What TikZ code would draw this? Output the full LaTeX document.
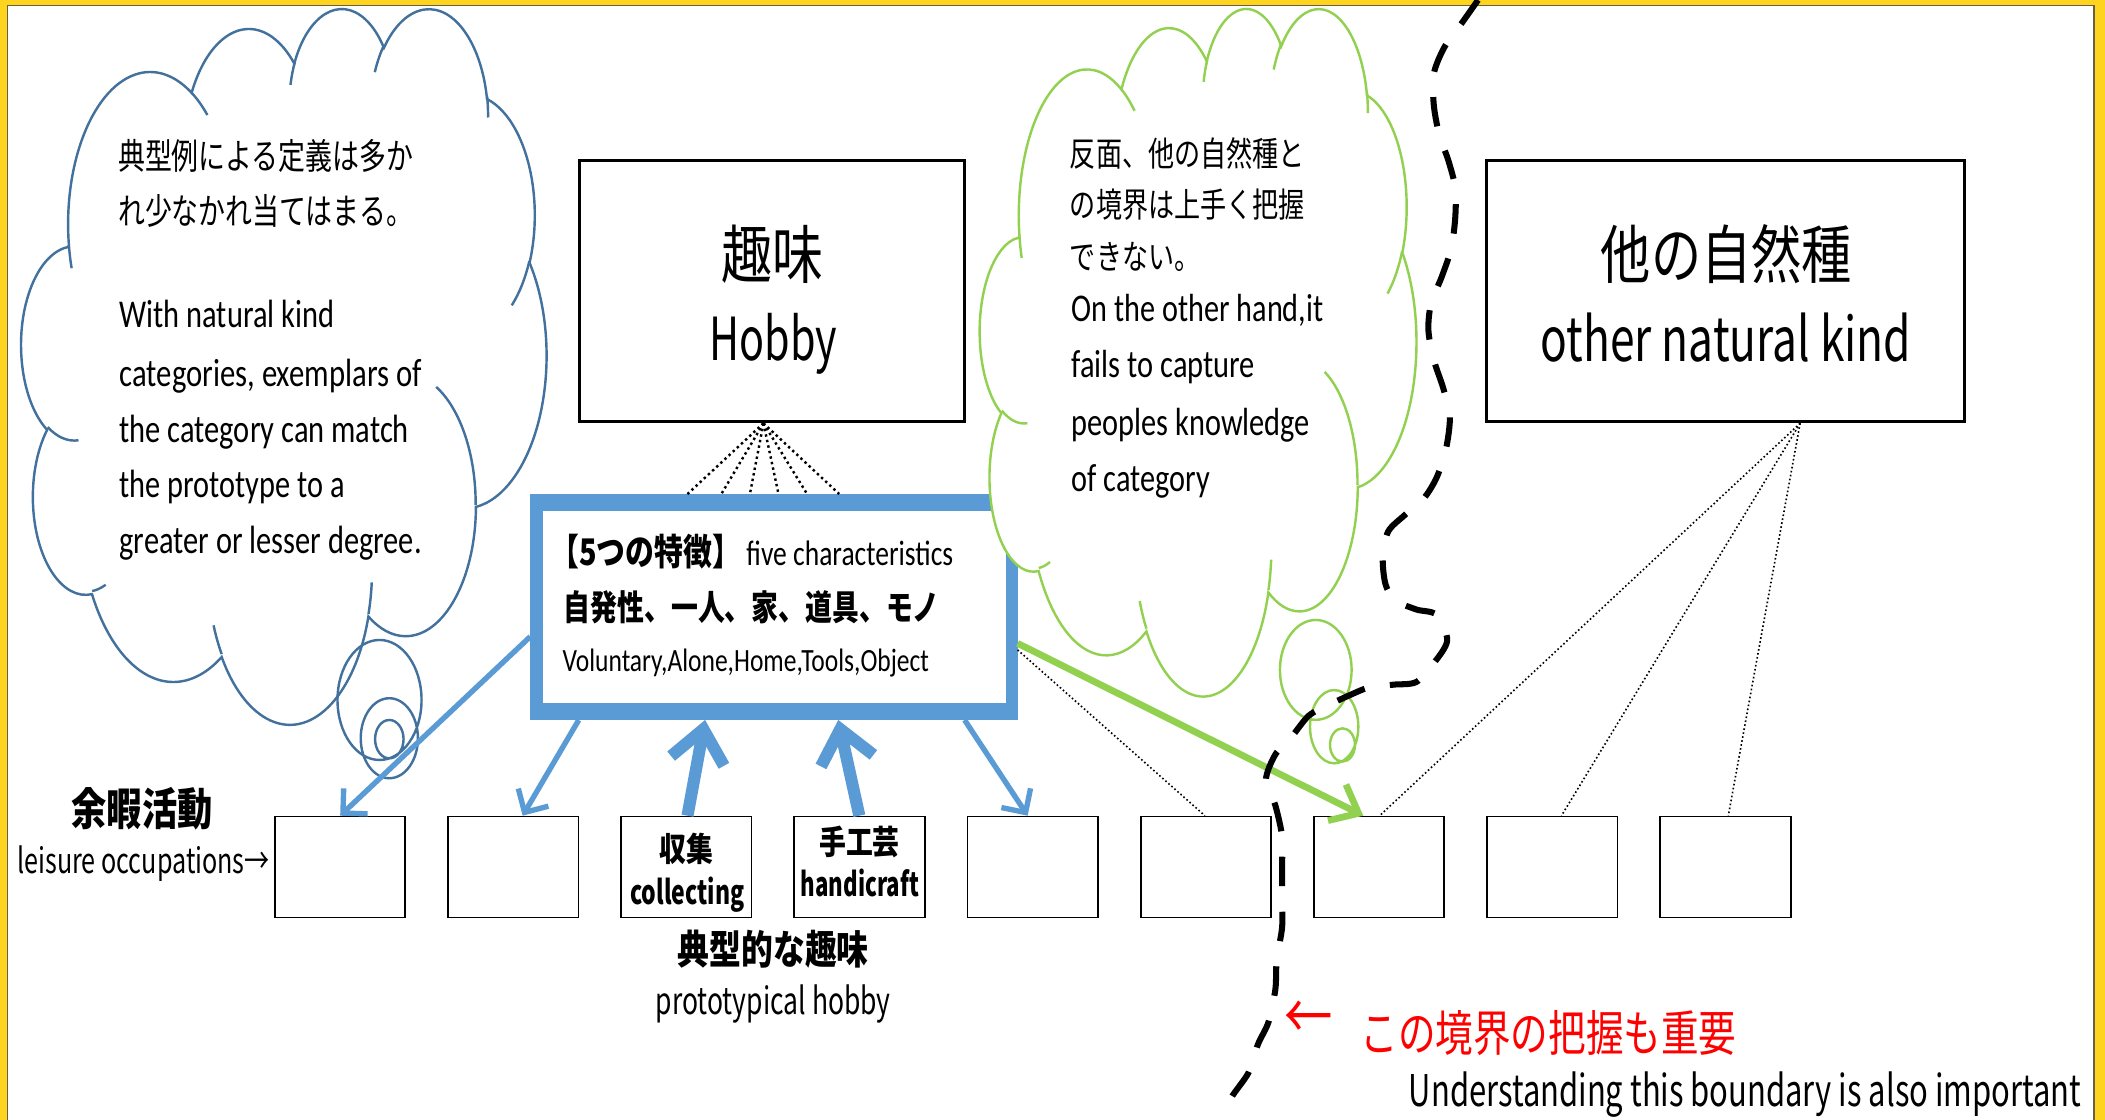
\documentclass[tikz,border=0pt]{standalone}
\usepackage{fontspec}
\usepackage{graphicx}
\setmainfont{Carlito}
\newfontfamily\jp{Noto Sans CJK JP}
\usetikzlibrary{arrows.meta,calc}
\definecolor{frameyellow}{RGB}{255,212,30}
\definecolor{frameline}{RGB}{105,95,70}
\definecolor{cloudblue}{RGB}{65,113,156}
\definecolor{boxblue}{RGB}{91,155,213}
\definecolor{leafgreen}{RGB}{146,208,80}
\definecolor{alertred}{RGB}{255,0,0}
\newlength\fitlen
\newcommand\st[1]{\scalebox{1}[1.3]{#1}}
\newcommand\fitw[2]{\settowidth\fitlen{#2}\pgfmathsetmacro\fitf{#1/\fitlen}\scalebox{\fitf}[1.3]{#2}}
\newcommand\setfs[1]{\fontsize{#1}{#1}\selectfont}
\newcommand\cldarc[4]{arc[start angle={-atan2(#1*sin(#3),#2*cos(#3))},delta angle={-mod(atan2(#1*sin(#3+#4),#2*cos(#3+#4))-atan2(#1*sin(#3),#2*cos(#3))+720,360)},x radius={#1/4320*\cldw*1pt},y radius={#2/4320*\cldh*1pt}]}
\newcommand\cldpt[2]{({\cldx+#1/4320*\cldw},{\cldy+#2/4320*\cldh})}
\newcommand\cloudbody{\cldpt{390}{1437}
 \cldarc{675.3}{919.0}{-190.4875}{123.7805}
 \cldarc{533.3}{726.7}{-144.1024}{89.9452}
 \cldarc{436.5}{594.5}{-145.8079}{99.7230}
 \cldarc{485.7}{659.5}{-130.9861}{117.2417}
 \cldarc{533.3}{727.3}{-78.7089}{109.0269}
 \cldarc{677.5}{922.0}{-46.2673}{130.2690}
 \cldarc{578.5}{786.7}{0.6250}{114.0333}
 \cldarc{675.2}{921.5}{22.4516}{115.1726}
 \cldarc{772.0}{1054.3}{66.2426}{75.7110}
 \cldarc{436.0}{591.8}{-274.9421}{146.7356}
 \cldarc{434.5}{594.5}{-246.8285}{152.5189}
 -- cycle}
\newcommand\cloudinner{\cldpt{469.3}{2617.7}\cldarc{434.5}{594.5}{86.7420}{26.4295}
 \cldpt{692.8}{3489.9}\cldarc{436.0}{591.8}{73.6105}{11.4475}
 \cldpt{1647.8}{3909.0}\cldarc{675.2}{921.5}{137.6242}{14.0811}
 \cldpt{2882.7}{3475.1}\cldarc{675.2}{921.5}{6.4533}{15.9984}
 \cldpt{3412.9}{2295.4}\cldarc{578.5}{786.7}{-70.2924}{70.9174}
 \cldpt{4179.8}{1535.4}\cldarc{533.3}{727.3}{30.3180}{27.7515}
 \cldpt{3832.4}{542.6}\cldarc{485.7}{659.5}{-13.7443}{14.8589}
 \cldpt{2907.8}{395.2}\cldarc{485.7}{659.5}{-149.1815}{18.1954}
 \cldpt{2214.1}{472.0}\cldarc{436.5}{594.5}{-163.4943}{17.6887}
 \cldpt{1400.0}{519.2}\cldarc{675.3}{919.0}{-66.7070}{12.3194}
 \cldpt{412.7}{1578.9}\cldarc{675.3}{919.0}{157.6544}{11.8582}}
\begin{document}
\begin{tikzpicture}[x=1pt,y=-1pt,
 t/.style={inner sep=0pt,outer sep=0pt},
 cloudline/.style={line width=1.8pt},
 bigbox/.style={draw=black,line width=2.2pt,fill=white,inner sep=0pt,minimum height=194.4pt},
 smallbox/.style={draw=black,line width=1.3pt,fill=white,inner sep=0pt,minimum width=97.2pt,minimum height=75.1pt,anchor=north west},
 bluearrow/.style={draw=boxblue,line width=4pt,-{Straight Barb[length=13pt,width=26pt]}},
 thickup/.style={draw=boxblue,line width=9pt,-{Straight Barb[length=24pt,width=40pt]}},
 greenarrow/.style={draw=leafgreen,line width=5pt,-{Straight Barb[length=18pt,width=30pt]}},
 fanline/.style={draw=black,line width=1.8pt,dash pattern=on 1.8pt off 2.4pt},
 fineline/.style={draw=black,line width=1.2pt,dash pattern=on 1.2pt off 1.8pt},
 boundary/.style={draw=black,line width=4.5pt,dash pattern=on 22pt off 19pt},
 cjk/.style={t,font=\jp\setfs{#1}},
 cjkb/.style={t,font=\jp\bfseries\setfs{#1}},
 lat/.style={t,font=\setfs{#1}}]
\useasboundingbox (0,0) rectangle (1568,834);
% frame
\fill[frameyellow] (0,0) rectangle (1568,834);
\fill[white] (5.3,4.2) rectangle (1559.8,840);
\draw[frameline,line width=0.9pt] (5.3,840) -- (5.3,4.2) -- (1559.8,4.2) -- (1559.8,840);
% left cloud
\def\cldx{16}\def\cldy{5}\def\cldw{391}\def\cldh{533}
\filldraw[cloudline,draw=cloudblue,fill=white] \cloudbody;
\draw[cloudline,draw=cloudblue] \cloudinner;
\draw[cloudline,draw=cloudblue] (282.7,521.4) ellipse[x radius=31.3pt,y radius=44.7pt]
  (290,549.9) ellipse[x radius=21.3pt,y radius=29.8pt]
  (290,550.6) ellipse[x radius=10.6pt,y radius=14.3pt];
\node[cjk=20.5,anchor=base west] (la) at (88,126) {\fitw{220pt}{典型例による定義は多か}};
\node[cjk=20.5,anchor=base west] (lb) at (88,167.3) {\fitw{220pt}{れ少なかれ当てはまる。}};
\node[lat=22.6,anchor=base west] (lc) at (89.1,244) {\fitw{160pt}{With natural kind}};
\node[lat=22.6,anchor=base west] (ld) at (89.1,288.2) {\fitw{225pt}{categories, exemplars of}};
\node[lat=22.6,anchor=base west] (le) at (89.1,329.6) {\fitw{215.5pt}{the category can match}};
\node[lat=22.6,anchor=base west] (lf) at (89.1,370.9) {\fitw{167.6pt}{the prototype to a}};
\node[lat=22.6,anchor=base west] (lg) at (89.1,412.2) {\fitw{225pt}{greater or lesser degree.}};
% hobby box
\node[bigbox,minimum width=286.6pt] (hobby) at (575.2,217) {};
\node[cjk=36.5,anchor=base] (hobbyjp) at (575.6,207.8) {\fitw{76pt}{趣味}};
\node[cjk=34,anchor=base] (hobbyen) at (576,268.8) {\fitw{95pt}{Hobby}};
% blue characteristics box
\node[fill=boxblue,inner sep=0pt,outer sep=0pt,minimum width=363pt,minimum height=168.3pt] (blue) at (576.5,452.15) {};
\fill[white] ($(blue.north west)+(9.3,12.3)$) rectangle ($(blue.south east)+(-8.4,-12.9)$);
\coordinate (happex) at ($(hobby.south west)+(137.9,0)$);
\foreach \dx in {117.1,142.3,163.6,184.9,206.2,230.1}
  \draw[fanline] (happex) -- ($(blue.north west)+(\dx,0)$);
\node[cjkb=21,anchor=base west] (kA) at (410,421.2) {\fitw{142pt}{【5つの特徴】}};
\node[lat=20.3,anchor=base west] (kB) at (556,421.2) {\fitw{154pt}{five characteristics}};
\node[cjkb=20,anchor=base west] (kC) at (420,462.2) {\st{自発性、一人、家、道具、モノ}};
\node[lat=18.6,anchor=base west] (kD) at (419,500.1) {\fitw{273pt}{Voluntary,Alone,Home,Tools,Object}};
% green cloud
\def\cldx{730}\def\cldy{5}\def\cldw{325}\def\cldh{512}
\filldraw[cloudline,draw=leafgreen,fill=white] \cloudbody;
\draw[cloudline,draw=leafgreen] \cloudinner;
\draw[cloudline,draw=leafgreen] (980.1,499) ellipse[x radius=26.7pt,y radius=37.2pt]
  (993.8,541.3) ellipse[x radius=18pt,y radius=27.3pt]
  (1000,554.9) ellipse[x radius=9.3pt,y radius=12.4pt];
\node[cjk=19.5,anchor=base west] (ga) at (797,124) {\fitw{175pt}{反面、他の自然種と}};
\node[cjk=19.5,anchor=base west] (gb) at (797,162.3) {\fitw{175pt}{の境界は上手く把握}};
\node[cjk=19.5,anchor=base west] (gc) at (797,200.5) {\fitw{97pt}{できない。}};
\node[lat=22.5,anchor=base west] (gd) at (798.3,239.8) {\fitw{187.5pt}{On the other hand,it}};
\node[lat=22.5,anchor=base west] (ge) at (798.3,281.3) {\fitw{136.6pt}{fails to capture}};
\node[lat=22.5,anchor=base west] (gf) at (798.3,324.6) {\fitw{177.5pt}{peoples knowledge}};
\node[lat=22.5,anchor=base west] (gg) at (798.3,366.1) {\fitw{103pt}{of category}};
% other natural kind box
\node[bigbox,minimum width=355.5pt] (other) at (1285.25,217) {};
\node[cjk=36.5,anchor=base] (otherjp) at (1286,207.8) {\fitw{187pt}{他の自然種}};
\node[cjk=35,anchor=base] (otheren) at (1285.6,269.2) {\fitw{276pt}{other natural kind}};
% row of boxes
\foreach \i/\xx in {1/204,2/333,3/462,4/591,5/720,6/849,7/978,8/1107,9/1236}
  \node[smallbox] (b\i) at (\xx,607.6) {};
\node[cjkb=19,anchor=base] (s3a) at (511.2,641.7) {\fitw{40pt}{収集}};
\node[cjkb=19,anchor=base] (s3b) at (512,674) {\fitw{85pt}{collecting}};
\node[cjkb=19,anchor=base] (s4a) at (640.2,636.8) {\fitw{60pt}{手工芸}};
\node[cjkb=19,anchor=base] (s4b) at (640.5,667.8) {\fitw{88pt}{handicraft}};
% connectors
\coordinate (oapex) at ($(other.south west)+(234.5,0)$);
\draw[fineline] ($(blue.north east)+(0,116.1)$) -- ($(b6.north west)+(48.5,0)$);
\draw[fineline] (oapex) -- ($(b7.north west)+(49.7,0)$);
\draw[fineline] (oapex) -- ($(b8.north west)+(56.1,0)$);
\draw[fineline] (oapex) -- ($(b9.north west)+(51.4,0)$);
\draw[bluearrow] ($(blue.north west)+(0,106.2)$) -- ($(b1.north west)+(49.4,0)$);
\draw[bluearrow] ($(blue.south west)+(36.1,0)$) -- ($(b2.north west)+(56.3,0)$);
\draw[thickup] ($(b3.north west)+(50.1,0)$) -- ($(blue.south west)+(130.2,0)$);
\draw[thickup] ($(b4.north west)+(49.1,0)$) -- ($(blue.south west)+(229.4,0)$);
\draw[bluearrow] ($(blue.south west)+(323.5,0)$) -- ($(b5.north west)+(45.5,0)$);
\draw[greenarrow] ($(blue.north east)+(0,111.2)$) -- ($(b7.north west)+(37.5,0)$);
% labels
\node[cjkb=25.5,anchor=base] (yoka) at (105.8,614.9) {\fitw{105pt}{余暇活動}};
\node[cjk=20,anchor=base west] (leis) at (13,650.9) {\fitw{188pt}{leisure occupations→}};
\node[cjkb=23,anchor=base] (proto) at (576,718.1) {\fitw{142pt}{典型的な趣味}};
\node[cjk=21.4,anchor=base] (protoen) at (576,755.8) {\fitw{175pt}{prototypical hobby}};
\node[cjk=36,text=alertred,anchor=center] (redarrow) at (974.5,759.7) {\st{←}};
\node[cjk=28,text=alertred,anchor=base west] (redjp) at (1013.5,783.6) {\fitw{280pt}{この境界の把握も重要}};
\node[cjk=25,anchor=base west] (under) at (1049.4,824.3) {\fitw{501pt}{Understanding this boundary is also important}};
% boundary dashed line
\draw[boundary] plot[smooth,tension=0.5] coordinates {(1101,0) (1089,17) (1076,35) (1068,55) (1068,78) (1072,100) (1079,120) (1084,140) (1084,162) (1081,185) (1074,206) (1066,226) (1064,246) (1068,268) (1075,289) (1080,310) (1077,335) (1070,356) (1060,372) (1046,384) (1034,396) (1030,415) (1032,435) (1039,447) (1055,454) (1070,458) (1078,477) (1068,494) (1055,508) (1038,510) (1020,512) (1005,518) (990,525) (975,533) (962,549) (950,562) (943,581) (950,600) (955,623) (955,645) (955,669) (955,691) (951,715) (950,737) (945,761) (937,778) (930,799) (917,818) (912,834)};
\end{tikzpicture}
\end{document}
